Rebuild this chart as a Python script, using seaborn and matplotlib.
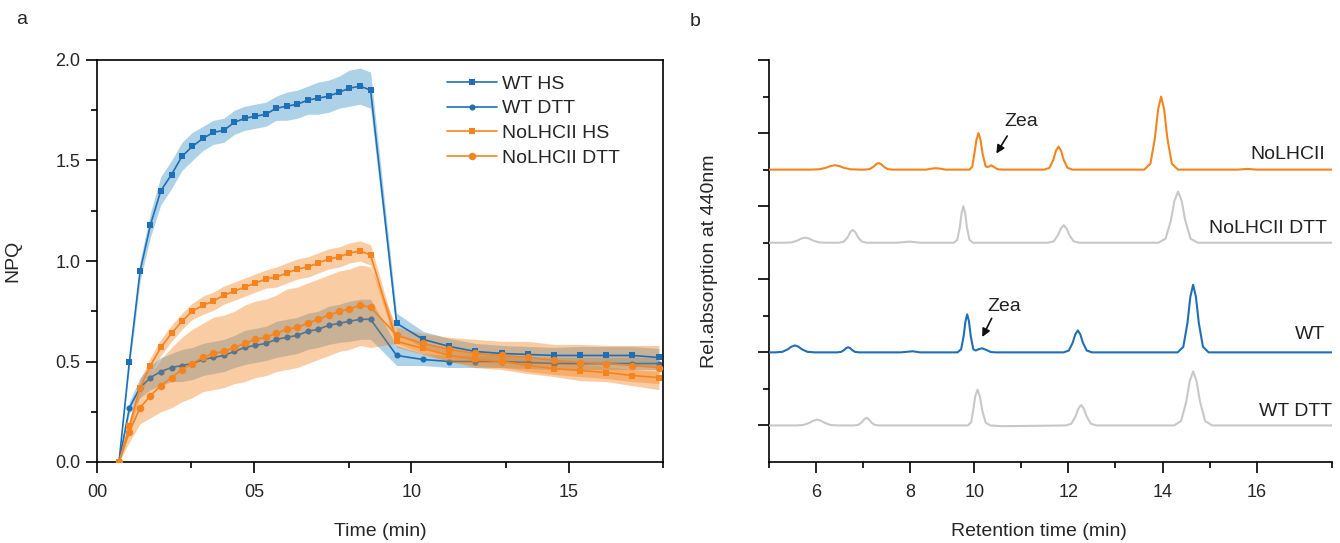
import numpy as np
import seaborn as sns
import matplotlib
matplotlib.use('Agg')
import matplotlib.pyplot as plt
from matplotlib.ticker import FixedLocator, FixedFormatter

sns.set_style('ticks')
plt.rcParams['font.family'] = ['Liberation Sans', 'DejaVu Sans']
plt.rcParams['font.size'] = 12

BLUE = '#1f6fb6'
ORANGE = '#f5841f'
GRAY = '#c8c8c8'

# ---- panel a: NPQ kinetics ----
time_min = [0.70, 1.03, 1.37, 1.70, 2.03, 2.37, 2.70, 3.03, 3.37, 3.70, 4.03, 4.37,
            4.70, 5.03, 5.37, 5.70, 6.03, 6.37, 6.70, 7.03, 7.37, 7.70, 8.03, 8.37,
            8.70, 9.53, 10.37, 11.20, 12.03, 12.87, 13.70, 14.53, 15.37, 16.20, 17.03, 17.87]

wt_hs = [0.00, 0.50, 0.95, 1.18, 1.35, 1.43, 1.52, 1.57, 1.61, 1.64, 1.65, 1.69,
         1.71, 1.72, 1.73, 1.76, 1.77, 1.78, 1.80, 1.81, 1.82, 1.84, 1.86, 1.87,
         1.85, 0.69, 0.61, 0.575, 0.55, 0.54, 0.535, 0.53, 0.53, 0.53, 0.53, 0.52]
wt_hs_sd = [0.00, 0.03, 0.05, 0.06, 0.07, 0.07, 0.07, 0.07, 0.06, 0.06, 0.06, 0.06,
            0.06, 0.06, 0.06, 0.06, 0.07, 0.07, 0.07, 0.08, 0.08, 0.08, 0.09, 0.09,
            0.09, 0.05, 0.04, 0.04, 0.04, 0.04, 0.04, 0.04, 0.045, 0.045, 0.045, 0.045]

wt_dtt = [0.00, 0.27, 0.37, 0.42, 0.45, 0.47, 0.48, 0.49, 0.51, 0.52, 0.53, 0.55,
          0.57, 0.58, 0.59, 0.61, 0.62, 0.63, 0.65, 0.66, 0.68, 0.69, 0.70, 0.71,
          0.71, 0.53, 0.51, 0.50, 0.50, 0.50, 0.495, 0.49, 0.49, 0.49, 0.49, 0.49]
wt_dtt_sd = [0.00, 0.03, 0.05, 0.06, 0.07, 0.07, 0.08, 0.08, 0.08, 0.08, 0.08, 0.08,
             0.085, 0.085, 0.085, 0.09, 0.09, 0.09, 0.09, 0.09, 0.095, 0.095, 0.10, 0.10,
             0.10, 0.05, 0.03, 0.03, 0.03, 0.03, 0.03, 0.03, 0.03, 0.03, 0.03, 0.03]

nolhcii_hs = [0.00, 0.18, 0.37, 0.48, 0.57, 0.64, 0.70, 0.75, 0.78, 0.80, 0.83, 0.85,
              0.87, 0.89, 0.91, 0.92, 0.94, 0.96, 0.97, 0.99, 1.01, 1.02, 1.04, 1.05,
              1.03, 0.60, 0.565, 0.53, 0.51, 0.50, 0.48, 0.465, 0.455, 0.445, 0.43, 0.42]
nolhcii_hs_sd = [0.00, 0.03, 0.04, 0.04, 0.04, 0.04, 0.04, 0.04, 0.045, 0.045, 0.045, 0.045,
                 0.045, 0.045, 0.045, 0.05, 0.05, 0.05, 0.05, 0.05, 0.05, 0.05, 0.05, 0.05,
                 0.05, 0.03, 0.03, 0.03, 0.03, 0.03, 0.03, 0.03, 0.03, 0.03, 0.03, 0.03]

nolhcii_dtt = [0.00, 0.15, 0.27, 0.33, 0.38, 0.42, 0.46, 0.49, 0.52, 0.54, 0.55, 0.57,
               0.59, 0.61, 0.62, 0.64, 0.66, 0.67, 0.69, 0.71, 0.73, 0.75, 0.76, 0.78,
               0.77, 0.63, 0.59, 0.56, 0.54, 0.53, 0.52, 0.505, 0.495, 0.49, 0.48, 0.47]
nolhcii_dtt_sd = [0.00, 0.05, 0.08, 0.11, 0.13, 0.15, 0.16, 0.17, 0.17, 0.18, 0.18, 0.18,
                  0.19, 0.19, 0.19, 0.19, 0.20, 0.20, 0.20, 0.20, 0.20, 0.20, 0.20, 0.20,
                  0.20, 0.04, 0.05, 0.06, 0.07, 0.07, 0.08, 0.08, 0.09, 0.09, 0.10, 0.11]

# ---- panel b: HPLC traces (height above each trace's baseline) ----
nolhcii_x = [5.0, 5.6, 5.875, 6.07, 6.21, 6.31, 6.40, 6.49, 6.59, 6.73, 6.93,
             7.03, 7.14, 7.22, 7.276, 7.33, 7.384, 7.44, 7.52, 7.63,
             8.5, 8.65, 8.8, 8.95, 9.1,
             9.85, 9.938, 10.002, 10.047, 10.09, 10.133, 10.178,
             10.242, 10.29, 10.36, 10.42, 10.5, 10.6,
             11.49, 11.60, 11.68, 11.736, 11.79, 11.844, 11.90, 11.98, 12.09,
             13.61, 13.742, 13.838, 13.905, 13.97, 14.035, 14.102, 14.198, 14.33,
             15.6, 15.8, 16.0, 17.6]
nolhcii_y = [0, 0, 0, 0.01, 0.05, 0.10, 0.12, 0.10, 0.05, 0.01, 0,
             0, 0.015, 0.08, 0.15, 0.18, 0.15, 0.08, 0.015, 0,
             0, 0.025, 0.04, 0.025, 0,
             0, 0.08, 0.43, 0.82, 1.0, 0.82, 0.43,
             0.09, 0.07, 0.12, 0.07, 0.01, 0,
             0, 0.05, 0.27, 0.52, 0.63, 0.52, 0.27, 0.05, 0,
             0, 0.16, 0.86, 1.64, 2.0, 1.64, 0.86, 0.16, 0,
             0, 0.02, 0, 0]

nolhcii_dtt_x = [5.0, 5.32, 5.485, 5.605, 5.689, 5.77, 5.851, 5.935, 6.055, 6.22,
                 6.48, 6.59, 6.67, 6.726, 6.78, 6.834, 6.89, 6.97, 7.08,
                 7.7, 8.0, 8.3,
                 9.36, 9.47, 9.55, 9.606, 9.66, 9.714, 9.77, 9.85, 9.96,
                 11.57, 11.691, 11.779, 11.841, 11.9, 11.959, 12.021, 12.109, 12.23,
                 13.91, 14.064, 14.176, 14.254, 14.33, 14.406, 14.484, 14.596, 14.75,
                 17.6]
nolhcii_dtt_y = [0, 0, 0.01, 0.06, 0.115, 0.14, 0.115, 0.06, 0.01, 0,
                 0, 0.03, 0.15, 0.29, 0.35, 0.29, 0.15, 0.03, 0,
                 0, 0.03, 0,
                 0, 0.08, 0.43, 0.82, 1.0, 0.82, 0.43, 0.08, 0,
                 0, 0.04, 0.21, 0.39, 0.48, 0.39, 0.21, 0.04, 0,
                 0, 0.11, 0.6, 1.15, 1.4, 1.15, 0.6, 0.11, 0,
                 0]

wt_x = [5.0, 5.13, 5.284, 5.396, 5.474, 5.55, 5.626, 5.704, 5.816, 5.97,
        6.44, 6.528, 6.592, 6.637, 6.68, 6.723, 6.768, 6.832, 6.92,
        7.8, 8.08, 8.3,
        9.48, 9.59, 9.67, 9.726, 9.78, 9.834, 9.89, 9.97,
        10.03, 10.1, 10.17, 10.25, 10.35, 10.45,
        11.9, 12.01, 12.09, 12.146, 12.2, 12.254, 12.31, 12.39, 12.5,
        14.32, 14.441, 14.529, 14.591, 14.65, 14.709, 14.771, 14.859, 14.98,
        17.6]
wt_y = [0, 0, 0.015, 0.08, 0.155, 0.19, 0.155, 0.08, 0.015, 0,
        0, 0.011, 0.06, 0.115, 0.14, 0.115, 0.06, 0.011, 0,
        0, 0.03, 0,
        0, 0.085, 0.45, 0.85, 1.04, 0.85, 0.45, 0.085,
        0.05, 0.09, 0.11, 0.07, 0.01, 0,
        0, 0.05, 0.26, 0.49, 0.6, 0.49, 0.26, 0.05, 0,
        0, 0.15, 0.8, 1.52, 1.85, 1.52, 0.8, 0.15, 0,
        0]

wt_dtt_x = [5.0, 5.57, 5.735, 5.855, 5.939, 6.02, 6.101, 6.185, 6.305, 6.47,
            6.8, 6.899, 6.971, 7.021, 7.07, 7.119, 7.169, 7.241, 7.34,
            9.8, 9.899, 9.971, 10.021, 10.07, 10.119, 10.169, 10.241, 10.34,
            10.6,
            11.94, 12.061, 12.149, 12.211, 12.27, 12.329, 12.391, 12.479, 12.6,
            14.245, 14.394, 14.502, 14.577, 14.65, 14.723, 14.798, 14.906, 15.055,
            17.6]
wt_dtt_y = [0, 0, 0.013, 0.07, 0.13, 0.16, 0.13, 0.07, 0.013, 0,
            0, 0.017, 0.09, 0.17, 0.21, 0.17, 0.09, 0.017, 0,
            0, 0.08, 0.42, 0.8, 0.98, 0.8, 0.42, 0.08, 0,
            -0.02,
            0, 0.045, 0.24, 0.46, 0.56, 0.46, 0.24, 0.045, 0,
            0, 0.12, 0.64, 1.21, 1.48, 1.21, 0.64, 0.12, 0,
            0]

trace_names = ['NoLHCII', 'NoLHCII DTT', 'WT', 'WT DTT']


def fwd(x):
    # the original axis squeezes the 8-10 min stretch
    x = np.asarray(x, dtype=float)
    return np.where(x <= 8, x, np.where(x >= 10, x - 0.64, 8 + (x - 8) * 0.68))


def inv(u):
    u = np.asarray(u, dtype=float)
    return np.where(u <= 8, u, np.where(u >= 9.36, u + 0.64, 8 + (u - 8) / 0.68))


fig = plt.figure(figsize=(13.4, 5.43), dpi=100)
ax1 = fig.add_axes([97 / 1340, 81 / 543, 566 / 1340, 402 / 543])
ax2 = fig.add_axes([769 / 1340, 81 / 543, 563 / 1340, 402 / 543])

t = np.array(time_min)
band_blue = '#6baed6'


def band(ax, vals, sd, color, alpha, z):
    v, s = np.array(vals), np.array(sd)
    ax.fill_between(t, v - s, v + s, color=color, alpha=alpha, lw=0, zorder=z)


band(ax1, wt_hs, wt_hs_sd, band_blue, 0.55, 1)
band(ax1, wt_dtt, wt_dtt_sd, band_blue, 0.55, 1)
# orange bands split in two layers so the WT DTT line shows through tinted
band(ax1, nolhcii_hs, nolhcii_hs_sd, ORANGE, 0.2, 1.5)
band(ax1, nolhcii_dtt, nolhcii_dtt_sd, ORANGE, 0.2, 1.5)

sns.lineplot(x=t, y=wt_dtt, ax=ax1, color=BLUE, marker='o', markersize=4.4,
             markeredgewidth=0, lw=1.2, zorder=2, label='WT DTT')

band(ax1, nolhcii_hs, nolhcii_hs_sd, ORANGE, 0.26, 3)
band(ax1, nolhcii_dtt, nolhcii_dtt_sd, ORANGE, 0.26, 3)

sns.lineplot(x=t, y=wt_hs, ax=ax1, color=BLUE, marker='s', markersize=3.8,
             markeredgewidth=0, lw=1.2, zorder=4, label='WT HS')
sns.lineplot(x=t, y=nolhcii_hs, ax=ax1, color=ORANGE, marker='s', markersize=3.8,
             markeredgewidth=0, lw=1.2, zorder=4, label='NoLHCII HS')
sns.lineplot(x=t, y=nolhcii_dtt, ax=ax1, color=ORANGE, marker='o', markersize=5.4,
             markeredgewidth=0, lw=1.2, zorder=4, label='NoLHCII DTT')

h, l = ax1.get_legend_handles_labels()
order = [l.index(k) for k in ['WT HS', 'WT DTT', 'NoLHCII HS', 'NoLHCII DTT']]
ax1.legend([h[i] for i in order], [l[i] for i in order], loc='upper left',
           bbox_to_anchor=(0.618, 0.962), frameon=False, handlelength=2.6,
           handletextpad=0.25, labelspacing=0.36, borderaxespad=0, borderpad=0,
           fontsize=14)

ax1.set_xlim(0, 18)
ax1.set_ylim(0, 2.0)
ax1.xaxis.set_major_locator(FixedLocator([0, 5, 10, 15]))
ax1.xaxis.set_major_formatter(FixedFormatter(['00', '05', '10', '15']))
ax1.xaxis.set_minor_locator(FixedLocator([3, 8, 13, 18]))
ax1.yaxis.set_major_locator(FixedLocator([0, 0.5, 1.0, 1.5, 2.0]))
ax1.yaxis.set_major_formatter(FixedFormatter(['0.0', '0.5', '1.0', '1.5', '2.0']))
ax1.yaxis.set_minor_locator(FixedLocator([0.25, 0.75, 1.25, 1.75]))
ax1.set_xlabel('Time (min)', fontsize=14)
ax1.set_ylabel('NPQ', fontsize=14)
ax1.xaxis.set_label_coords(0.5, -0.152)
ax1.yaxis.set_label_coords(-0.133, 0.5)
for sp in ax1.spines.values():
    sp.set_linewidth(1.2)
    sp.set_color('black')

# ---- panel b ----
ax2.set_xscale('function', functions=(fwd, inv))
traces = [(nolhcii_x, nolhcii_y, 8, ORANGE), (nolhcii_dtt_x, nolhcii_dtt_y, 6, GRAY),
          (wt_x, wt_y, 3, BLUE), (wt_dtt_x, wt_dtt_y, 1, GRAY)]
for (xs, ys, base, col) in traces:
    sns.lineplot(x=xs, y=np.array(ys) + base, ax=ax2, color=col, lw=1.5, zorder=3)

label_pos = [(17.45, 8.42), (17.5, 6.4), (17.45, 3.5), (17.6, 1.38)]
for name, (lx, ly) in zip(trace_names, label_pos):
    ax2.text(lx, ly, name, ha='right', va='center', fontsize=14, color='#222222')

for (tx, ty), (ax_, ay), (hx, hy) in [((11.0, 9.33), (10.7, 8.92), (10.47, 8.44)),
                                      ((10.63, 4.25), (10.37, 3.93), (10.17, 3.42))]:
    ax2.text(tx, ty, 'Zea', ha='center', va='center', fontsize=14, color='#222222')
    ax2.annotate('', xy=(hx, hy), xytext=(ax_, ay),
                 arrowprops=dict(arrowstyle='-|>', color='#111111', lw=1.2,
                                 mutation_scale=12, shrinkA=0, shrinkB=0))

ax2.set_xlim(5, 17.6)
ax2.set_ylim(0, 11)
ax2.xaxis.set_major_locator(FixedLocator([6, 8, 10, 12, 14, 16]))
ax2.xaxis.set_major_formatter(FixedFormatter(['6', '8', '10', '12', '14', '16']))
ax2.xaxis.set_minor_locator(FixedLocator([5, 7, 11, 13, 15, 17.6]))
ax2.yaxis.set_major_locator(FixedLocator([1, 3, 5, 7, 9, 11]))
ax2.yaxis.set_minor_locator(FixedLocator([2, 4, 6, 8, 10]))
ax2.yaxis.set_major_formatter(FixedFormatter([''] * 6))
ax2.set_xlabel('Retention time (min)', fontsize=14)
ax2.set_ylabel('Rel.absorption at 440nm', fontsize=14)
ax2.xaxis.set_label_coords(0.48, -0.152)
ax2.yaxis.set_label_coords(-0.09, 0.5)
sns.despine(ax=ax2)
for sp in ['left', 'bottom']:
    ax2.spines[sp].set_linewidth(1.2)
    ax2.spines[sp].set_color('black')

for ax in (ax1, ax2):
    ax.tick_params(which='major', direction='out', length=8, width=1.2, color='black',
                   labelsize=13, pad=4)
    ax.tick_params(which='minor', direction='out', length=4.5, width=1.2, color='black')
    ax.tick_params(axis='x', which='major', pad=8)
    ax.grid(False)

fig.text(22 / 1340, 1 - 20 / 543, 'a', fontsize=14, va='center', ha='center')
fig.text(695 / 1340, 1 - 22 / 543, 'b', fontsize=14, va='center', ha='center')

fig.savefig('out.png', dpi=100)
